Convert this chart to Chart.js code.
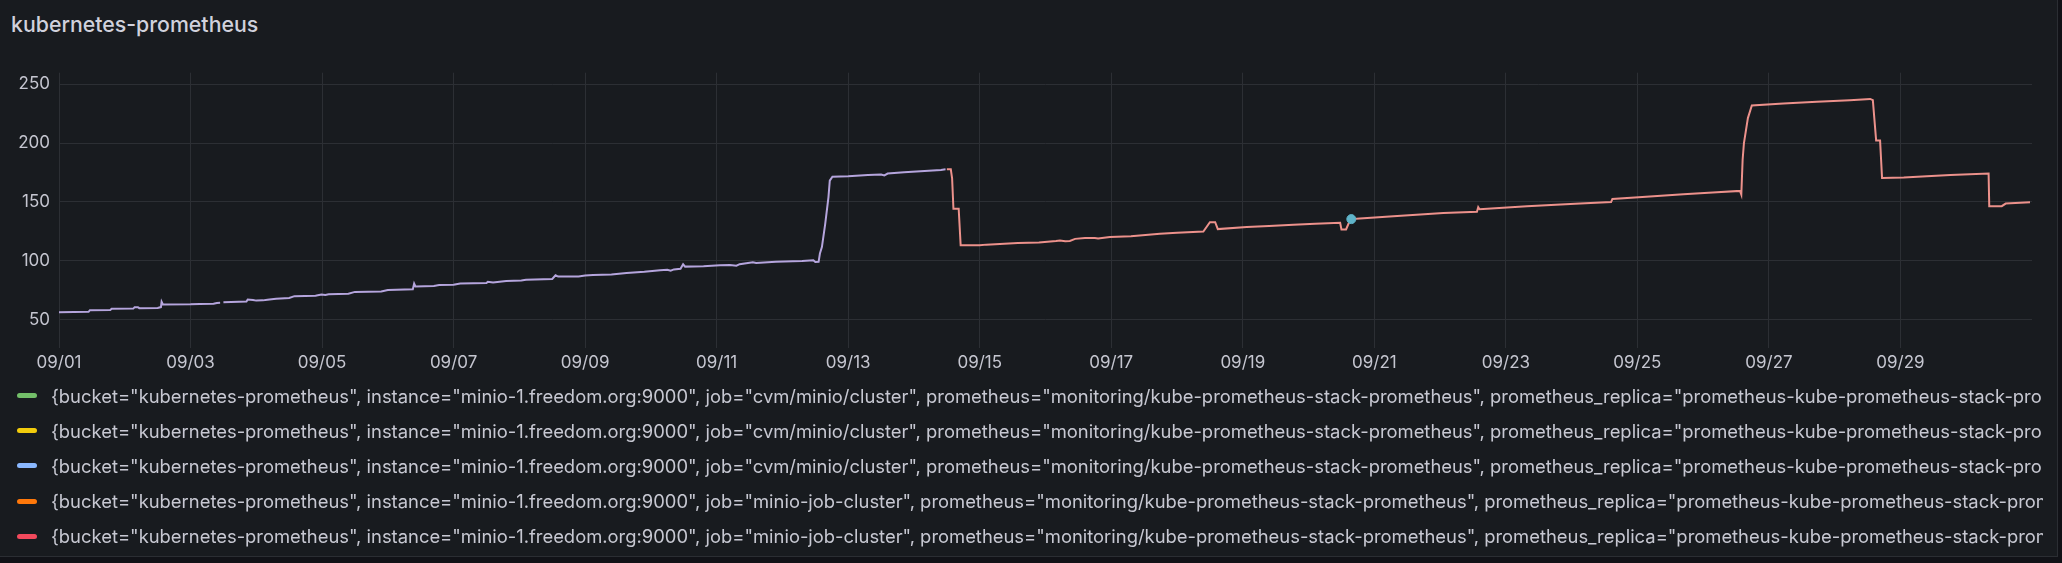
<!DOCTYPE html>
<html>
<head>
<meta charset="utf-8">
<script src="https://cdn.jsdelivr.net/npm/chart.js@4.4.1/dist/chart.umd.min.js"></script>
<style>
  html, body { margin: 0; padding: 0; background: #111217; }
  body { width: 2062px; height: 563px; overflow: hidden; position: relative; font-family: Inter, "Noto Sans", sans-serif; }
  #panel { position: absolute; left: 0; top: 0; width: 2057px; height: 556px; background: #181b1f; border-right: 1px solid #2b2e33; border-bottom: 1px solid #2b2e33; }
  #title { position: absolute; left: 11px; top: 14px; font-size: 21.3px; line-height: 20px; font-weight: 500; color: #d0d1dc; }
  #chart { position: absolute; left: 0; top: 0; }
  #legend { position: absolute; left: 0; top: 378px; width: 2043px; overflow: hidden; }
  .row { height: 35.2px; display: flex; align-items: center; white-space: nowrap; font-size: 18.4px; color: #c7c8d2; }
  .mark { flex: none; width: 20px; height: 5px; border-radius: 3px; margin-left: 17px; margin-right: 14px; }
</style>
</head>
<body>
<div id="panel">
  <div id="title">kubernetes-prometheus</div>
  <canvas id="chart" width="2057" height="380"></canvas>
  <div id="legend"></div>
</div>
<script>
// x in days since 09/01 00:00
const tickDays = [0, 2, 4, 6, 8, 10, 12, 14, 16, 18, 20, 22, 24, 26, 28];
const tickLabels = ['09/01', '09/03', '09/05', '09/07', '09/09', '09/11', '09/13', '09/15', '09/17', '09/19', '09/21', '09/23', '09/25', '09/27', '09/29'];
const yTicks = [50, 100, 150, 200, 250];

const seriesLabels = [
  '{bucket="kubernetes-prometheus", instance="minio-1.freedom.org:9000", job="cvm/minio/cluster", prometheus="monitoring/kube-prometheus-stack-prometheus", prometheus_replica="prometheus-kube-prometheus-stack-prometheus-0"}',
  '{bucket="kubernetes-prometheus", instance="minio-1.freedom.org:9000", job="cvm/minio/cluster", prometheus="monitoring/kube-prometheus-stack-prometheus", prometheus_replica="prometheus-kube-prometheus-stack-prometheus-0"}',
  '{bucket="kubernetes-prometheus", instance="minio-1.freedom.org:9000", job="cvm/minio/cluster", prometheus="monitoring/kube-prometheus-stack-prometheus", prometheus_replica="prometheus-kube-prometheus-stack-prometheus-0"}',
  '{bucket="kubernetes-prometheus", instance="minio-1.freedom.org:9000", job="minio-job-cluster", prometheus="monitoring/kube-prometheus-stack-prometheus", prometheus_replica="prometheus-kube-prometheus-stack-prometheus-0"}',
  '{bucket="kubernetes-prometheus", instance="minio-1.freedom.org:9000", job="minio-job-cluster", prometheus="monitoring/kube-prometheus-stack-prometheus", prometheus_replica="prometheus-kube-prometheus-stack-prometheus-0"}'
];
const legendColors = ['#73bf69', '#f2cc0c', '#8ab8ff', '#ff780a', '#f2495c'];

// first stretch (lavender line)
const cvmDays = [0, 0.45, 0.47, 0.78, 0.8, 1.13, 1.15, 1.2, 1.22, 1.5, 1.55, 1.56, 1.58, 2.0, 2.14, 2.35, 2.4, 2.45, 2.47, 2.5,
  2.85, 2.87, 2.95, 3.0, 3.1, 3.17, 3.3, 3.5, 3.58, 3.9, 3.99, 4.05, 4.1, 4.4, 4.5, 4.9, 5.0, 5.38, 5.4, 5.42,
  5.7, 5.78, 6.0, 6.1, 6.5, 6.52, 6.6, 6.8, 7.03, 7.1, 7.5, 7.55, 7.59, 7.9, 8.0, 8.12, 8.4, 8.63, 8.9, 9.14,
  9.25, 9.3, 9.35, 9.45, 9.49, 9.52, 9.8, 10.05, 10.2, 10.3, 10.35, 10.55, 10.6, 10.9, 11.16, 11.3, 11.47, 11.5, 11.55, 11.57,
  11.6, 11.65, 11.7, 11.72, 11.76, 12.0, 12.3, 12.5, 12.55, 12.6, 12.85, 13.1, 13.41, 13.48];
const cvmValues = [56.2, 56.5, 57.9, 58.0, 59.0, 59.2, 60.4, 60.4, 59.6, 59.8, 60.5, 65, 62.7, 62.9, 63.2, 63.3, 64, 64.1, null, 64.6,
  65.2, 67, 66.6, 66, 66.2, 66.8, 67.6, 68.2, 69.8, 70.2, 71.2, 70.8, 71.4, 71.8, 73.4, 73.8, 75.1, 75.7, 80.5, 78,
  78.4, 79.3, 79.4, 80.6, 81, 82, 81.4, 82.7, 83.2, 83.8, 84.4, 87.5, 86.4, 86.5, 87.3, 87.8, 88.2, 89.5, 90.5, 91.8,
  92.2, 91.4, 92.5, 93, 96.9, 94.9, 95.3, 96, 96.2, 95.7, 97, 98.6, 98, 99, 99.4, 99.6, 100.3, 98.8, 99, 106,
  111.5, 131, 154, 168, 171.4, 171.8, 172.9, 173.3, 172.5, 174, 175.1, 176, 177.1, 177.6];

// second stretch (salmon line)
const jobDays = [13.5, 13.56, 13.58, 13.6, 13.68, 13.71, 14.0, 14.1, 14.58, 14.9, 15.16, 15.22, 15.3, 15.37, 15.45, 15.6, 15.75, 15.8, 15.98, 16.3,
  16.74, 17.0, 17.4, 17.5, 17.58, 17.62, 18.06, 18.4, 18.77, 19.1, 19.48, 19.5, 19.57, 19.62, 19.65, 19.78, 20.29, 20.7, 21.05, 21.56,
  21.58, 21.6, 22.32, 23.13, 23.6, 23.62, 24.19, 24.7, 25.21, 25.56, 25.58, 25.6, 25.62, 25.68, 25.74, 26.22, 26.73, 27.23, 27.54, 27.58,
  27.63, 27.69, 27.72, 28.05, 28.4, 28.76, 29.34, 29.35, 29.54, 29.6, 29.97];
const jobValues = [177.6, 177.6, 170, 144.1, 144.1, 113, 113, 113.6, 114.9, 115.5, 116.6, 117.2, 116.4, 116.7, 118.5, 119.2, 119.2, 118.8, 120, 120.8,
  122.9, 123.8, 124.8, 132.7, 132.7, 126.8, 128.5, 129.5, 130.5, 131.4, 132.2, 126.5, 126.5, 133, 135.3, 135.8, 137.8, 139.2, 140.4, 141.5,
  145.4, 143.7, 146.3, 148.6, 149.8, 152.5, 154.6, 156.4, 158.1, 159.3, 156.2, 185.8, 200, 221.2, 231.9, 233.6, 235, 236.4, 237.5, 236.5,
  202.2, 202.2, 170.3, 170.6, 171.8, 172.9, 174, 146.3, 146.3, 148.5, 149.6];

// lone sample
const dotDays = [19.65];
const dotValues = [135.3];

const toPoints = (xs, ys) => xs.map((x, i) => ({ x: x, y: ys[i] }));

const datasets = [
  { label: seriesLabels[0], data: toPoints(dotDays, dotValues), borderColor: '#5fb4c9', backgroundColor: '#5fb4c9', pointRadius: 4.5, showLine: false },
  { label: seriesLabels[1], data: [], borderColor: legendColors[1] },
  { label: seriesLabels[2], data: toPoints(cvmDays, cvmValues), borderColor: '#b5a5dd', pointRadius: 0, borderWidth: 2, spanGaps: false },
  { label: seriesLabels[3], data: [], borderColor: legendColors[3] },
  { label: seriesLabels[4], data: toPoints(jobDays, jobValues), borderColor: '#ec918b', pointRadius: 0, borderWidth: 2 }
];

const gridColor = '#2c2f34';
const textColor = '#c5c6d0';

new Chart(document.getElementById('chart').getContext('2d'), {
  type: 'line',
  data: { datasets: datasets },
  options: {
    responsive: false,
    animation: false,
    layout: { padding: { top: 72.7, right: 25, left: 0, bottom: 0 } },
    plugins: { legend: { display: false }, tooltip: { enabled: false } },
    scales: {
      x: {
        type: 'linear', min: 0, max: 30,
        afterBuildTicks: function (scale) { scale.ticks = tickDays.map(v => ({ value: v })); },
        afterFit: function (scale) { scale.height = 32; },
        grid: { color: gridColor, drawTicks: false },
        border: { display: false },
        ticks: {
          color: textColor, padding: 5, maxRotation: 0, autoSkip: false,
          font: { family: 'Inter', size: 17 },
          callback: function (v) { return tickLabels[tickDays.indexOf(v)]; }
        }
      },
      y: {
        min: 25.7, max: 259.8,
        afterBuildTicks: function (scale) { scale.ticks = yTicks.map(v => ({ value: v })); },
        afterFit: function (scale) { scale.width = 59; },
        grid: { color: gridColor, drawTicks: false },
        border: { display: false },
        ticks: { color: textColor, padding: 9, font: { family: 'Inter', size: 17 } }
      }
    }
  }
});

const legend = document.getElementById('legend');
seriesLabels.forEach(function (name, i) {
  const row = document.createElement('div');
  row.className = 'row';
  const mark = document.createElement('span');
  mark.className = 'mark';
  mark.style.background = legendColors[i];
  const text = document.createElement('span');
  text.textContent = name;
  row.appendChild(mark);
  row.appendChild(text);
  legend.appendChild(row);
});
</script>
</body>
</html>
